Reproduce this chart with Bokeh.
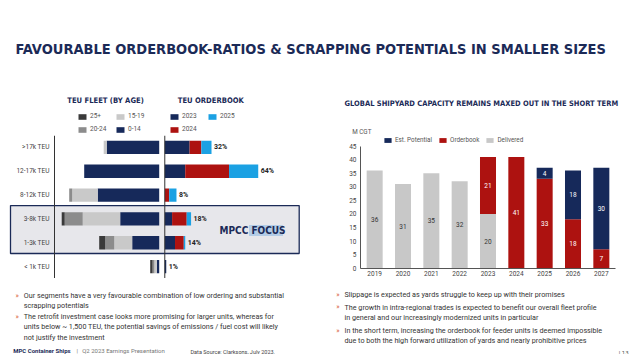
from bokeh.plotting import figure
from bokeh.layouts import column, row
from bokeh.models import (Range1d, FactorRange, ColumnDataSource, CategoricalAxis,
                          LinearAxis, Span, Legend, LegendItem, FixedTicker, Spacer)
from bokeh.core.properties import value
from bokeh.embed import file_html
from bokeh.resources import INLINE

# ---------------- data ----------------
categories = [">17k TEU", "12-17k TEU", "8-12k TEU", "3-8k TEU", "1-3k TEU", "< 1k TEU"]
age_groups = ["25+", "20-24", "15-19", "0-14"]
fleet_0_14 = [3.5, 5.0, 4.1, 2.6, 1.8, 0.16]
fleet_15_19 = [0.2, 0.0, 1.7, 2.5, 1.2, 0.16]
fleet_20_24 = [0.0, 0.0, 0.2, 1.2, 0.6, 0.12]
fleet_25p = [0.0, 0.0, 0.0, 0.2, 0.4, 0.16]
ob_years = ["2023", "2024", "2025"]
ob_2023 = [17, 14, 0, 5, 7, 1]
ob_2024 = [8, 30, 3, 10, 6, 0]
ob_2025 = [7, 20, 5, 3, 1, 0]

years = ["2019", "2020", "2021", "2022", "2023", "2024", "2025", "2026", "2027"]
delivered = [36, 31, 35, 32, 20, 0, 0, 0, 0]
orderbook = [0, 0, 0, 0, 21, 41, 33, 18, 7]
potential = [0, 0, 0, 0, 0, 0, 4, 18, 30]
y_ticks = [0, 5, 10, 15, 20, 25, 30, 35, 40, 45]

title_text = "FAVOURABLE ORDERBOOK-RATIOS & SCRAPPING POTENTIALS IN SMALLER SIZES"
right_title = "GLOBAL SHIPYARD CAPACITY REMAINS MAXED OUT IN THE SHORT TERM"
left_bullets = [
    "Our segments have a very favourable combination of low ordering and substantial",
    "scrapping potentials",
    "The retrofit investment case looks more promising for larger units, whereas for",
    "units below ~ 1,500 TEU, the potential savings of emissions / fuel cost will likely",
    "not justify the investment",
]
left_bullet_starts = [True, False, True, False, False]
right_bullets = [
    "Slippage is expected as yards struggle to keep up with their promises",
    "The growth in intra-regional trades is expected to benefit our overall fleet profile",
    "in general and our increasingly modernized units in particular",
    "In the short term, increasing the orderbook for feeder units is deemed impossible",
    "due to both the high forward utilization of yards and nearly prohibitive prices",
]
right_bullet_starts = [True, True, False, True, False]

# ---------------- style ----------------
NAVY = "#16295a"
TNAVY = "#1b2a57"
RED = "#ad1210"
BLUE = "#1ba1e3"
G25 = "#3a3a3a"
G20 = "#8c8c8c"
G15 = "#c9c9c9"
DELIV = "#c8c8c8"
TXT = "#333333"
CHEV = "#d9603b"
COND = "DejaVu Sans Condensed"
BODY = "Roboto"


def canvas(w, h):
    p = figure(width=w, height=h, x_range=Range1d(0, w), y_range=Range1d(h, 0),
               output_backend="svg", toolbar_location=None, tools="", min_border=0,
               x_axis_location=None, y_axis_location=None)
    p.outline_line_color = None
    p.grid.visible = False
    p.background_fill_color = "white"
    p.border_fill_color = "white"
    return p


def txt(p, xs, ys, texts, size, color, font=BODY, style="normal", align="left",
        baseline="middle", **kw):
    p.text(x=xs, y=ys, text=texts, text_font=value(font), text_font_size=f"{size}px",
           text_color=color, text_font_style=style, text_align=align,
           text_baseline=baseline, **kw)


def bullets(p, lines, starts, x_chev, x_text, ys):
    txt(p, [x_text] * len(lines), ys, lines, 7.2, TXT)
    cy = [y for y, s in zip(ys, starts) if s]
    txt(p, [x_chev] * len(cy), cy, ["»"] * len(cy), 7, CHEV)


# ---------------- top band: titles, headers, legends ----------------
top = canvas(624, 127)
txt(top, [7], [40], [title_text], 14.5, TNAVY, font=COND, style="bold")
txt(top, [97, 202.3], [92, 92], ["TEU FLEET (BY AGE)", "TEU ORDERBOOK"], 7.6, TNAVY,
    font=COND, style="bold", align="center")
txt(top, [472.8], [95.3], [right_title], 7.5, TNAVY, font=COND, style="bold",
    align="center")
txt(top, [343.7], [123.7], ["M CGT"], 6.3, "#555555")


def mini_legend(p, labels, colors, loc):
    items = []
    for lab, c in zip(labels, colors):
        r = p.quad(left=[0], right=[0], top=[0], bottom=[0], fill_color=c,
                   line_color=None)
        items.append(LegendItem(label=lab, renderers=[r]))
    lg = Legend(items=items, orientation="vertical", nrows=2, location=loc,
                glyph_width=10, glyph_height=7, label_height=7, label_standoff=3,
                spacing=5, padding=0, margin=0, border_line_color=None,
                background_fill_alpha=0, label_text_font=BODY,
                label_text_font_size="6.5px", label_text_color="#555555")
    p.add_layout(lg)


mini_legend(top, age_groups, [G25, G20, G15, NAVY], (69, 2))
mini_legend(top, ob_years, [NAVY, RED, BLUE], (161, 2))

# ---------------- left chart ----------------
src = ColumnDataSource(dict(
    cat=categories, a0=fleet_0_14, a15=fleet_15_19, a20=fleet_20_24, a25=fleet_25p,
    o23=ob_2023, o24=ob_2024, o25=ob_2025,
    tot=[a + b + c for a, b, c in zip(ob_2023, ob_2024, ob_2025)],
    lab=[f"{a + b + c}%" for a, b, c in zip(ob_2023, ob_2024, ob_2025)],
))
LW = 335
lc = figure(width=LW, height=143, x_range=Range1d(10.047, 10.047 - LW / 15),
            y_range=FactorRange(factors=list(reversed(categories)), range_padding=0),
            output_backend="svg", toolbar_location=None, tools="", min_border=0,
            x_axis_location=None, y_axis_location=None)
lc.outline_line_color = None
lc.grid.visible = False
lc.extra_x_ranges = {"ob": Range1d(-107.05, -107.05 + LW / 1.46), "px": Range1d(0, LW)}

# MPCC focus box (vertical extent in synthetic category units)
lc.quad(left=[2], right=[290.7], top=[3.06], bottom=[1.05], x_range_name="px",
        fill_color="#e7e7eb", line_color=TNAVY, line_width=1.3)
lc.quad(left=[240.5], right=[274.5], top=[2.24], bottom=[1.78], x_range_name="px",
        fill_color="#b3cce6", line_color=None)
txt(lc, [211], [2.01], ["MPCC FOCUS"], 10, TNAVY, font=COND, style="bold",
    x_range_name="px")

lc.hbar_stack(["a0", "a15", "a20", "a25"], y="cat", height=0.56,
              color=[NAVY, G15, G20, G25], source=src, line_color=None)
lc.hbar_stack(["o23", "o24", "o25"], y="cat", height=0.56,
              color=[NAVY, RED, BLUE], source=src, line_color=None, x_range_name="ob")
lc.text(x="tot", y="cat", text="lab", source=src, x_range_name="ob", x_offset=2.5,
        text_font=value(BODY), text_font_size="7px", text_font_style="bold",
        text_color="#222222", text_baseline="middle", text_align="left")
lc.add_layout(Span(location=0, dimension="height", x_range_name="ob",
                   line_color="#333333", line_width=1))
yax = CategoricalAxis(fixed_location=6.98)
yax.major_tick_out = 0
yax.major_tick_in = 0
yax.major_label_standoff = 5
yax.axis_line_color = "#333333"
yax.major_label_text_font = BODY
yax.major_label_text_font_size = "6.5px"
yax.major_label_text_color = "#444444"
lc.add_layout(yax, "left")

# ---------------- right chart ----------------
rsrc = ColumnDataSource(dict(
    year=years, delivered=delivered, orderbook=orderbook, potential=potential,
))
RW = 624 - LW
rc = figure(width=RW, height=143,
            x_range=FactorRange(factors=years, range_padding=0.6,
                                range_padding_units="absolute"),
            y_range=Range1d(-3.8, 48.9), output_backend="svg", toolbar_location=None,
            tools="", min_border=0, x_axis_location=None, y_axis_location=None)
rc.outline_line_color = None
rc.grid.visible = False
rs = rc.vbar_stack(["delivered", "orderbook", "potential"], x="year", width=0.565,
                   color=[DELIV, RED, NAVY], source=rsrc, line_color=None)


def seg_labels(vals, bases, color):
    xs, ys, ts = [], [], []
    for yr, v, b in zip(years, vals, bases):
        if v > 0:
            xs.append(yr); ys.append(b + v / 2); ts.append(str(v))
    txt(rc, xs, ys, ts, 6.5, color, align="center")


seg_labels(delivered, [0] * 9, "#333333")
seg_labels(orderbook, delivered, "white")
seg_labels(potential, [a + b for a, b in zip(delivered, orderbook)], "white")

rx = CategoricalAxis(fixed_location=0, bounds=(0, len(years)))
ry = LinearAxis(fixed_location=0, bounds=(0, 45), ticker=FixedTicker(ticks=y_ticks))
for ax in (rx, ry):
    ax.major_tick_out = 0
    ax.major_tick_in = 0
    ax.minor_tick_out = 0
    ax.minor_tick_in = 0
    ax.axis_line_color = "#555555"
    ax.major_label_text_font = BODY
    ax.major_label_text_font_size = "6.5px"
    ax.major_label_text_color = "#444444"
ry.major_label_standoff = 4
rx.major_label_standoff = 3
rc.add_layout(rx, "below")
rc.add_layout(ry, "left")

rleg = Legend(items=[LegendItem(label="Est. Potential", renderers=[rs[2]]),
                     LegendItem(label="Orderbook", renderers=[rs[1]]),
                     LegendItem(label="Delivered", renderers=[rs[0]])],
              orientation="horizontal", location=(40, 134.3), glyph_width=9,
              glyph_height=6, label_height=6, label_standoff=3, spacing=6,
              padding=0, margin=0, border_line_color=None, background_fill_alpha=0,
              label_text_font=BODY, label_text_font_size="6.3px",
              label_text_color="#555555")
rc.add_layout(rleg)

# ---------------- bottom band: bullets + footer ----------------
bot = canvas(624, 76)
bullets(bot, left_bullets, left_bullet_starts, 7, 15.3, [17, 27, 38, 48, 59])
bullets(bot, right_bullets, right_bullet_starts, 327.7, 336, [16, 28.5, 38.5, 52, 62])
txt(bot, [4.7], [72], ["MPC Container Ships"], 6, TNAVY, style="bold")
txt(bot, [68, 73.7], [72, 72], ["|", "Q2 2023 Earnings Presentation"], 6, "#777777")
txt(bot, [182], [73.5], ["Data Source: Clarksons, July 2023."], 5.5, "#444444")
txt(bot, [620], [73.5], ["| 13"], 6, "#555555", align="right")

content = column(top, row(lc, rc), bot)
layout = column(Spacer(width=632, height=8), row(Spacer(width=8, height=346), content))
open("out.html", "w").write(file_html(layout, INLINE))
